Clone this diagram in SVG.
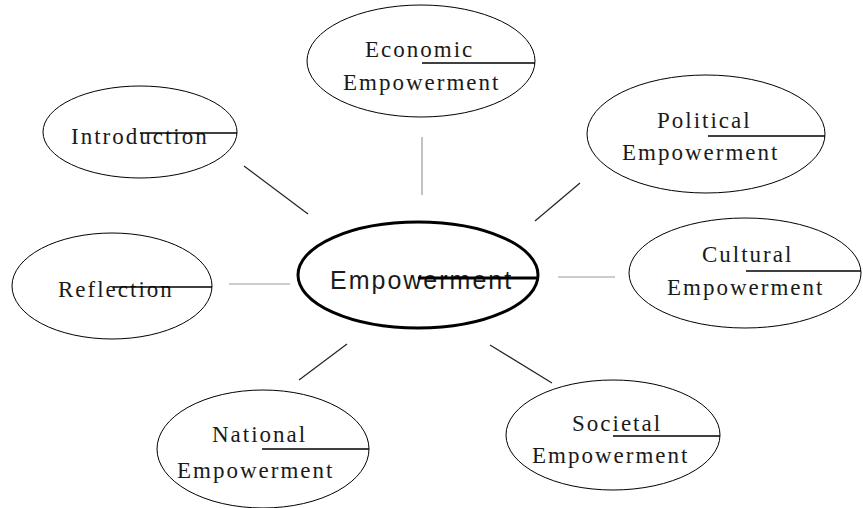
<svg xmlns="http://www.w3.org/2000/svg" width="863" height="508" viewBox="0 0 863 508">
<style>
.node{fill:#fff;stroke:#000;stroke-width:1}
.hub{fill:#fff;stroke:#000;stroke-width:3}
.t{font-family:"Liberation Serif",serif;font-size:23px;letter-spacing:2px;fill:#1a1a1a}
.th{font-family:"Liberation Sans",Arial,sans-serif;font-size:25px;letter-spacing:2px;fill:#1a1a1a}
.bar{stroke:#000;stroke-width:1.6}
.c{stroke:#222;stroke-width:1.2}
.cg{stroke:#999;stroke-width:1.2}
</style>
<rect width="863" height="508" fill="#fff"/>
<g id="connectors">
<line class="c" x1="244" y1="166" x2="308" y2="214"/>
<line class="cg" x1="422" y1="137" x2="422" y2="195"/>
<line class="c" x1="535" y1="221" x2="580" y2="183"/>
<line class="cg" x1="558" y1="277" x2="615" y2="277"/>
<line class="c" x1="490" y1="345" x2="552" y2="383"/>
<line class="cg" x1="229" y1="284" x2="290" y2="284"/>
<line class="c" x1="299" y1="380" x2="347" y2="344"/>
</g>
<g id="hub">
<ellipse class="hub" cx="418" cy="275" rx="120" ry="53"/>
<text class="th" x="330" y="289">Empowerment</text>
<line x1="418" y1="278" x2="538" y2="278" stroke="#000" stroke-width="3"/>
</g>
<g id="economic">
<ellipse class="node" cx="421" cy="61" rx="114" ry="56"/>
<text class="t" x="365" y="57">Economic</text>
<text class="t" x="343" y="90">Empowerment</text>
<line class="bar" x1="422" y1="63" x2="535" y2="63"/>
</g>
<g id="introduction">
<ellipse class="node" cx="140" cy="132" rx="97" ry="46"/>
<text class="t" x="71" y="144">Introduction</text>
<line class="bar" x1="140" y1="133" x2="237" y2="133"/>
</g>
<g id="political">
<ellipse class="node" cx="706" cy="134" rx="119" ry="59"/>
<text class="t" x="657" y="128">Political</text>
<text class="t" x="622" y="160">Empowerment</text>
<line class="bar" x1="708" y1="136" x2="825" y2="136"/>
</g>
<g id="reflection">
<ellipse class="node" cx="112" cy="286" rx="100" ry="53"/>
<text class="t" x="58" y="297">Reflection</text>
<line class="bar" x1="113" y1="287" x2="212" y2="287"/>
</g>
<g id="cultural">
<ellipse class="node" cx="745" cy="273" rx="116" ry="55"/>
<text class="t" x="702" y="262">Cultural</text>
<text class="t" x="667" y="295">Empowerment</text>
<line class="bar" x1="746" y1="271" x2="861" y2="271"/>
</g>
<g id="national">
<ellipse class="node" cx="263" cy="449" rx="106" ry="59"/>
<text class="t" x="212" y="442">National</text>
<text class="t" x="177" y="478">Empowerment</text>
<line class="bar" x1="262" y1="449" x2="369" y2="449"/>
</g>
<g id="societal">
<ellipse class="node" cx="613" cy="435" rx="107" ry="55"/>
<text class="t" x="572" y="431">Societal</text>
<text class="t" x="532" y="463">Empowerment</text>
<line class="bar" x1="613" y1="436" x2="720" y2="436"/>
</g>
</svg>
